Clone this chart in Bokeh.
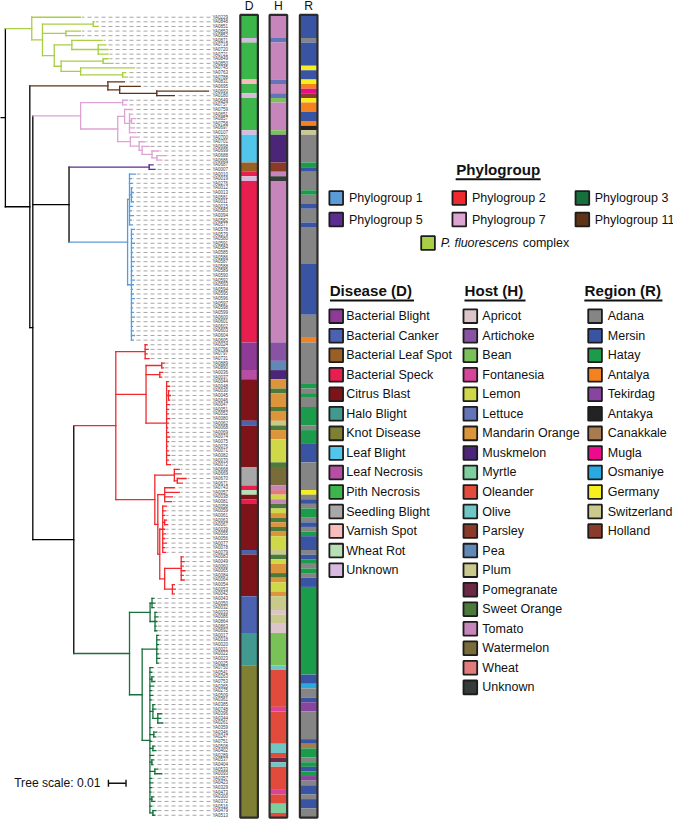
from bokeh.plotting import figure
from bokeh.models import Range1d
from bokeh.embed import file_html
from bokeh.resources import INLINE
from bokeh.core.properties import value

# ---------------- data ----------------
LEAF_IDS = [
    "YA0229", "YA0848", "YA0851", "YA0853", "YA0852", "YA0871", "YA0719", "YA0720", "YA0721", "YA0849",
    "YA0850", "YA0745", "YA0763", "YA0788", "YA0831", "YA0695", "YA0693", "YA0180", "YA0649", "YA0757",
    "YA0759", "YA0651", "YA0857", "YA0758", "YA0697", "YA0107", "YA0700", "YA0701", "YA0698", "YA0699",
    "YA0688", "YA0686", "YA0687", "YA0007", "YA0010", "YA0019", "YA0276", "YA0012", "YA0013", "YA0581",
    "YA0011", "YA0015", "YA0583", "YA0094", "YA0582", "YA0577", "YA0578", "YA0579", "YA0580", "YA0591",
    "YA0584", "YA0585", "YA0586", "YA0587", "YA0588", "YA0589", "YA0590", "YA0592", "YA0593", "YA0594",
    "YA0595", "YA0596", "YA0597", "YA0598", "YA0599", "YA0600", "YA0601", "YA0602", "YA0603", "YA0604",
    "YA0605", "YA0024", "YA0796", "YA0797", "YA0731", "YA0889", "YA0890", "YA0036", "YA0037", "YA0044",
    "YA0048", "YA0030", "YA0045", "YA0046", "YA0047", "YA0051", "YA0052", "YA0080", "YA0062", "YA0068",
    "YA0069", "YA0074", "YA0075", "YA0076", "YA0071", "YA0082", "YA0070", "YA0072", "YA0668", "YA0669",
    "YA0670", "YA0671", "YA0743", "YA0057", "YA0038", "YA0081", "YA0058", "YA0059", "YA0061", "YA0063",
    "YA0067", "YA0039", "YA0055", "YA0056", "YA0077", "YA0078", "YA0079", "YA0083", "YA0049", "YA0060",
    "YA0065", "YA0084", "YA0064", "YA0054", "YA0053", "YA0042", "YA0043", "YA0050", "YA0032", "YA0033",
    "YA0086", "YA0864", "YA0863", "YA0692", "YA0017", "YA0018", "YA0020", "YA0021", "YA0022", "YA0023",
    "YA0025", "YA0750", "YA0541", "YA0263", "YA0753", "YA0365", "YA0275", "YA0509", "YA0361", "YA0385",
    "YA0748", "YA0396", "YA0344", "YA0261", "YA0359", "YA0346", "YA0247", "YA0751", "YA0508", "YA0402",
    "YA0289", "YA0537", "YA0404", "YA0533", "YA0093", "YA0357", "YA0423", "YA0329", "YA0473", "YA0300",
    "YA0372", "YA0516", "YA0479", "YA0513",
]

# phylogroup of consecutive leaves (run lengths)
PG_RUNS = [("P. fluorescens complex", 14), ("Phylogroup 11", 4), ("Phylogroup 7", 14),
           ("Phylogroup 5", 2), ("Phylogroup 1", 37), ("Phylogroup 2", 55), ("Phylogroup 3", 48)]

# tree (leaf numbers index LEAF_IDS, branch lengths in substitutions/site)
FLUOR_NWK = ("(0:0.0278,((1:0.0006,2:0.0028):0.0289,(3:0.0083,4:0.0083):0.0133,"
             "((5:0.0172,(6:0.0044,7:0.0056,8:0.0056):0.0150):0.0100,((9:0.0028,10:0.0056):0.0239,"
             "(11:0.0306,(12:0.0017,13:0.0028):0.0239):0.0111):0.0039):0.0067):0.0061)")
BROWN_NWK = "(14:0.0094,(15:0.0117,(16:0.0294,17:0.0100):0.0211):0.0067)"
PINK_NWK = ("((18:0.0028,19:0.0022):0.0239,((20:0.0044,(21:0.0017,(22:0.0022,23:0.0017):0.0011,"
            "24:0.0028,25:0.0033):0.0028):0.0039,(26:0.0050,(27:0.0033,(28:0.0039,(29:0.0039,"
            "(30:0.0056,31:0.0028):0.0028):0.0056):0.0017):0.0050):0.0072):0.0211)")
PG5_NWK = "(32:0.0022,33:0.0033)"
PG1_NWK = ("((34:0.0033,35:0.0011,36:0.0017,(37:0.0006,38:0.0011,39:0.0006,40:0.0011):0.0011,"
           "41:0.0017,42:0.0011,43:0.0022,44:0.0011,45:0.0017):0.0011,(46:0.0017,47:0.0011,"
           "48:0.0006,49:0.0017,50:0.0011,51:0.0006,52:0.0011,53:0.0017,54:0.0011,55:0.0006,"
           "56:0.0011,57:0.0017,58:0.0011,59:0.0006,60:0.0011,61:0.0017,62:0.0011,63:0.0006,"
           "64:0.0011,65:0.0017,66:0.0011,67:0.0006,68:0.0011,69:0.0017,70:0.0011):0.0022)")
RED_NWK = ("((71:0.0011,72:0.0017,73:0.0011,74:0.0022):0.0167,((75:0.0017,76:0.0011):0.0089,"
           "(77:0.0017,78:0.0011):0.0078,(79:0.0011,80:0.0017,(81:0.0006,82:0.0011,83:0.0006):0.0011,"
           "84:0.0017,85:0.0011,86:0.0011,87:0.0017,88:0.0011,89:0.0006,90:0.0011,91:0.0017,"
           "92:0.0011,93:0.0006,94:0.0011,95:0.0017,96:0.0011,97:0.0022):0.0117):0.0172,"
           "((98:0.0028,99:0.0039,(100:0.0050,101:0.0028):0.0017):0.0111,((102:0.0056,103:0.0083,"
           "104:0.0044,105:0.0039):0.0039,((106:0.0022,107:0.0017,108:0.0011,(109:0.0011,"
           "110:0.0017):0.0011,111:0.0011,112:0.0017,113:0.0011,114:0.0022,115:0.0011,"
           "116:0.0017):0.0017,((117:0.0011,118:0.0017,119:0.0011,120:0.0022,121:0.0011,"
           "122:0.0017):0.0094,(123:0.0011,124:0.0017,125:0.0011):0.0044):0.0028):0.0011):0.0017):0.0222)")
KNOT_NWK = ("(141:0.0017,142:0.0011,(143:0.0011,144:0.0017):0.0011,145:0.0022,146:0.0011,147:0.0017,"
            "148:0.0011,(149:0.0011,150:0.0017,(151:0.0022,152:0.0017,153:0.0028):0.0028):0.0017,"
            "154:0.0011,(155:0.0017,156:0.0011):0.0022,157:0.0011,(158:0.0011,159:0.0017):0.0017,"
            "160:0.0022,(161:0.0011,162:0.0006):0.0011,(163:0.0017,164:0.0039):0.0028,165:0.0011,"
            "166:0.0017,167:0.0011,168:0.0006,(169:0.0011,170:0.0017):0.0011,171:0.0011,"
            "(172:0.0017,173:0.0011):0.0017)")
GREEN_NWK = ("(((126:0.0011,127:0.0017,128:0.0011):0.0011,(129:0.0011,130:0.0017,131:0.0011,"
             "132:0.0006,133:0.0011):0.0028):0.0117,((134:0.0011,135:0.0017,136:0.0011,137:0.0006,"
             "138:0.0011,139:0.0017,140:0.0011):0.0083," + KNOT_NWK + ":0.0044):0.0072)")
TREE_NWK = ("(" + FLUOR_NWK + ":0.0150,(" + BROWN_NWK + ":0.0444,(" + PINK_NWK + ":0.0272,("
            + PG5_NWK + ":0.0456," + PG1_NWK + ":0.0333):0.0206,(" + RED_NWK + ":0.0239,"
            + GREEN_NWK + ":0.0317):0.0233):0.0017):0.0139)")

# metadata strips (run lengths, top to bottom)
D_RUNS = [("Pith Necrosis", 5), ("Unknown", 1), ("Pith Necrosis", 8), ("Varnish Spot", 1),
          ("Pith Necrosis", 2), ("Unknown", 1), ("Pith Necrosis", 7), ("Unknown", 1),
          ("Leaf Blight", 6), ("Bacterial Leaf Spot", 2), ("Bacterial Speck", 1), ("Unknown", 1),
          ("Bacterial Speck", 35), ("Bacterial Blight", 6), ("Leaf Necrosis", 2), ("Citrus Blast", 9),
          ("Bacterial Canker", 1), ("Citrus Blast", 9), ("Seedling Blight", 4), ("Bacterial Speck", 1),
          ("Wheat Rot", 1), ("Citrus Blast", 1), ("Bacterial Speck", 1), ("Citrus Blast", 10),
          ("Bacterial Canker", 1), ("Citrus Blast", 9), ("Bacterial Canker", 8), ("Halo Blight", 7),
          ("Knot Disease", 33)]
H_RUNS = [("Tomato", 5), ("Lettuce", 1), ("Tomato", 8), ("Lettuce", 1), ("Tomato", 2), ("Lettuce", 1),
          ("Bean", 1), ("Tomato", 6), ("Bean", 1), ("Muskmelon", 6), ("Parsley", 2), ("Tomato", 1),
          ("Unknown", 1), ("Tomato", 35), ("Artichoke", 4), ("Pea", 2), ("Muskmelon", 2),
          ("Mandarin Orange", 2), ("Sweet Orange", 1), ("Mandarin Orange", 3), ("Sweet Orange", 1),
          ("Mandarin Orange", 2), ("Plum", 1), ("Sweet Orange", 1), ("Mandarin Orange", 2), ("Lemon", 5),
          ("Sweet Orange", 1), ("Watermelon", 4), ("Tomato", 1), ("Wheat", 1), ("Lemon", 1), ("Tomato", 1),
          ("Sweet Orange", 1), ("Lemon", 1), ("Mandarin Orange", 1), ("Sweet Orange", 1),
          ("Mandarin Orange", 1), ("Sweet Orange", 1), ("Mandarin Orange", 1), ("Lemon", 3), ("Plum", 1),
          ("Sweet Orange", 1), ("Lemon", 1), ("Mandarin Orange", 2), ("Sweet Orange", 1),
          ("Mandarin Orange", 1), ("Lemon", 2), ("Mandarin Orange", 1), ("Plum", 3), ("Apricot", 1),
          ("Plum", 2), ("Apricot", 2), ("Bean", 7), ("Olive", 1), ("Oleander", 8), ("Fontanesia", 1),
          ("Oleander", 7), ("Olive", 2), ("Oleander", 1), ("Pomegranate", 1), ("Olive", 1), ("Oleander", 5),
          ("Fontanesia", 1), ("Oleander", 2), ("Myrtle", 2), ("Oleander", 1)]
R_RUNS = [("Mersin", 5), ("Adana", 1), ("Mersin", 5), ("Germany", 1), ("Mersin", 2), ("Germany", 1),
          ("Antalya", 1), ("Mugla", 1), ("Holland", 1), ("Germany", 1), ("Antalya", 2), ("Mersin", 2),
          ("Antalya", 1), ("Antakya", 1), ("Switzerland", 1), ("Adana", 6), ("Hatay", 1), ("Mersin", 1),
          ("Adana", 4), ("Hatay", 1), ("Adana", 2), ("Mersin", 1), ("Adana", 3), ("Mersin", 1), ("Adana", 8),
          ("Mersin", 11), ("Adana", 5), ("Antalya", 1), ("Adana", 9), ("Hatay", 1), ("Adana", 1),
          ("Hatay", 1), ("Adana", 2), ("Hatay", 4), ("Adana", 1), ("Hatay", 3), ("Mersin", 4), ("Adana", 6),
          ("Germany", 1), ("Adana", 1), ("Mersin", 1), ("Adana", 1), ("Hatay", 2), ("Adana", 1),
          ("Mersin", 1), ("Adana", 1), ("Hatay", 1), ("Mersin", 3), ("Adana", 1), ("Mersin", 1),
          ("Hatay", 1), ("Adana", 1), ("Hatay", 1), ("Adana", 1), ("Mersin", 2), ("Hatay", 19),
          ("Mersin", 2), ("Osmaniye", 1), ("Adana", 2), ("Mersin", 1), ("Tekirdag", 2), ("Adana", 6),
          ("Mersin", 1), ("Canakkale", 1), ("Hatay", 2), ("Adana", 1), ("Hatay", 1), ("Mersin", 1),
          ("Hatay", 1), ("Tekirdag", 1), ("Adana", 1), ("Mersin", 2), ("Adana", 1), ("Mersin", 2),
          ("Adana", 2)]

PG_NAMES = ["Phylogroup 1", "Phylogroup 2", "Phylogroup 3", "Phylogroup 5", "Phylogroup 7",
            "Phylogroup 11", "P. fluorescens complex"]
PG_COLORS = ["#5b9bd8", "#ee2a2e", "#16703c", "#5c2d91", "#dda3d2", "#5e3316", "#a8cf45"]

DISEASE_NAMES = ["Bacterial Blight", "Bacterial Canker", "Bacterial Leaf Spot", "Bacterial Speck",
                 "Citrus Blast", "Halo Blight", "Knot Disease", "Leaf Blight", "Leaf Necrosis",
                 "Pith Necrosis", "Seedling Blight", "Varnish Spot", "Wheat Rot", "Unknown"]
DISEASE_COLORS = ["#8d3b97", "#4a62b0", "#9a5f25", "#e81e4e", "#7d1419", "#42998f", "#7f8033",
                  "#52c6ea", "#b64ea3", "#3cb54b", "#a8a8a8", "#f9bcbc", "#b8e0b7", "#d7badd"]
HOST_NAMES = ["Apricot", "Artichoke", "Bean", "Fontanesia", "Lemon", "Lettuce", "Mandarin Orange",
              "Muskmelon", "Myrtle", "Oleander", "Olive", "Parsley", "Pea", "Plum", "Pomegranate",
              "Sweet Orange", "Tomato", "Watermelon", "Wheat", "Unknown"]
HOST_COLORS = ["#dbc5ca", "#8953a4", "#79c258", "#d8449a", "#cfd849", "#6474b9", "#dc953b",
               "#4b2577", "#7ecf9e", "#e24b3c", "#70c6c4", "#8a3a27", "#6189b8", "#cac98c",
               "#6c2946", "#4b7b3b", "#c686bb", "#7a6b3b", "#e27c7c", "#343b39"]
REGION_NAMES = ["Adana", "Mersin", "Hatay", "Antalya", "Tekirdag", "Antakya", "Canakkale", "Mugla",
                "Osmaniye", "Germany", "Switzerland", "Holland"]
REGION_COLORS = ["#858585", "#3a54a4", "#1a9c4b", "#f5821f", "#8745a0", "#232323", "#a97b50",
                 "#ec0b8c", "#28a9e0", "#f7ee1d", "#cbca8e", "#8b3b2b"]

TREE_SCALE = 0.01

# ---------------- layout constants (reference pixels) ----------------
W_REF, H_REF = 689, 836
FIG_W, FIG_H = 673, 820
S = FIG_W / W_REF
PX_PER_UNIT = 1800.0
ROOT_X = 5.0
COL_TOP, COL_BOT = 14.7, 833.0
N = len(LEAF_IDS)
ROW_H = (COL_BOT - COL_TOP) / N
LABEL_X = 217.0
DASH_END = 215.0
FONT = value("Liberation Sans")


def fs(px):
    return "%.2fpx" % (px * S)


def expand(runs):
    out = []
    for name, n in runs:
        out += [name] * n
    return out


leaf_pg = expand(PG_RUNS)
leaf_y = [COL_TOP + (i + 0.5) * ROW_H for i in range(N)]
pg_color = dict(zip(PG_NAMES, PG_COLORS))


def parse_newick(s):
    s = "".join(s.split())
    pos = 0

    def node():
        nonlocal pos
        n = {"children": [], "leaf": None, "len": 0.0}
        if s[pos] == "(":
            pos += 1
            n["children"].append(node())
            while s[pos] == ",":
                pos += 1
                n["children"].append(node())
            pos += 1  # ')'
        else:
            st = pos
            while s[pos] not in ":,)":
                pos += 1
            n["leaf"] = int(s[st:pos])
        if pos < len(s) and s[pos] == ":":
            pos += 1
            st = pos
            while pos < len(s) and s[pos] not in ",)":
                pos += 1
            n["len"] = float(s[st:pos])
        return n

    return node()


tree = parse_newick(TREE_NWK)


def place(n, xp):
    n["x"] = xp + n["len"] * PX_PER_UNIT
    if n["leaf"] is not None:
        n["y"] = leaf_y[n["leaf"]]
        n["groups"] = {leaf_pg[n["leaf"]]}
    else:
        for c in n["children"]:
            place(c, n["x"])
        n["y"] = (n["children"][0]["y"] + n["children"][-1]["y"]) / 2
        n["groups"] = set().union(*[c["groups"] for c in n["children"]])
    n["color"] = pg_color[next(iter(n["groups"]))] if len(n["groups"]) == 1 else "#000000"


place(tree, ROOT_X)

seg = {"x0": [], "y0": [], "x1": [], "y1": [], "c": []}
tips = {}


def collect(n, xp):
    if xp is not None:
        seg["x0"].append(xp); seg["y0"].append(n["y"]); seg["x1"].append(n["x"]); seg["y1"].append(n["y"])
        seg["c"].append(n["color"])
    if n["leaf"] is not None:
        tips[n["leaf"]] = n["x"]
    else:
        seg["x0"].append(n["x"]); seg["y0"].append(n["children"][0]["y"])
        seg["x1"].append(n["x"]); seg["y1"].append(n["children"][-1]["y"])
        seg["c"].append(n["color"])
        for c in n["children"]:
            collect(c, n["x"])


collect(tree, None)
# root stub
seg["x0"].append(0.0); seg["y0"].append(tree["y"]); seg["x1"].append(ROOT_X); seg["y1"].append(tree["y"])
seg["c"].append("#000000")

# ---------------- figure ----------------
p = figure(width=FIG_W, height=FIG_H, x_range=Range1d(0, W_REF), y_range=Range1d(H_REF, 0),
           output_backend="svg", toolbar_location=None, min_border=0)
p.axis.visible = False
p.grid.visible = False
p.outline_line_color = None

# leader dashes (drawn from the label side so the dash pattern lines up)
p.segment(x0=[DASH_END] * N, y0=leaf_y, x1=[tips[i] + 1.5 for i in range(N)], y1=leaf_y,
          line_color="#a6a6a6", line_width=1, line_dash="4 3")

p.segment(x0=seg["x0"], y0=seg["y0"], x1=seg["x1"], y1=seg["y1"], line_color=seg["c"],
          line_width=1.3, line_cap="square")

p.text(x=[LABEL_X] * N, y=leaf_y, text=LEAF_IDS, text_font=FONT, text_font_size=fs(4.6),
       text_baseline="middle", text_color="#3a3a3a")

# metadata columns: one block per run of equal values
COLS = [("D", D_RUNS, dict(zip(DISEASE_NAMES, DISEASE_COLORS)), 245.5, 263.5),
        ("H", H_RUNS, dict(zip(HOST_NAMES, HOST_COLORS)), 275.5, 293.5),
        ("R", R_RUNS, dict(zip(REGION_NAMES, REGION_COLORS)), 306.5, 324.5)]
for head, runs, cmap, l, r in COLS:
    tops, bots, cols = [], [], []
    start = 0
    for name, n in runs:
        tops.append(COL_TOP + start * ROW_H)
        bots.append(COL_TOP + (start + n) * ROW_H)
        cols.append(cmap[name])
        start += n
    p.quad(left=[l] * len(tops), right=[r] * len(tops), top=tops, bottom=bots, fill_color=cols,
           line_color=None)
    p.quad(left=[l], right=[r], top=[COL_TOP], bottom=[COL_BOT], fill_color=None,
           line_color="#2b2b2b", line_width=2.2)
    p.text(x=[(l + r) / 2], y=[5.5], text=[head], text_font=FONT, text_font_size=fs(12.5),
           text_align="center", text_baseline="middle", text_color="#111111")

# tree scale
SB_Y = 798.0
SB_X0 = 110.5
p.text(x=[14.0], y=[SB_Y], text=["Tree scale: %g" % TREE_SCALE], text_font=FONT,
       text_font_size=fs(12.4), text_baseline="middle", text_color="#111111")
sb_x1 = SB_X0 + TREE_SCALE * PX_PER_UNIT
p.segment(x0=[SB_X0, SB_X0, sb_x1], y0=[SB_Y, SB_Y - 3.5, SB_Y - 3.5],
          x1=[sb_x1, SB_X0, sb_x1], y1=[SB_Y, SB_Y + 3.5, SB_Y + 3.5],
          line_color="#111111", line_width=1.4)

# ---------------- legends ----------------
SW = 14.0
ITEM_FS = fs(12.8)
TITLE_FS = fs(15.5)


def swatches(xs, ys, colors):
    p.rect(x=[x + SW / 2 for x in xs], y=ys, width=SW, height=SW, fill_color=colors,
           line_color="#1c1c1c", line_width=1.8)


def title(x, y, t, x_ul0, x_ul1, align="left"):
    p.text(x=[x], y=[y], text=[t], text_font=FONT, text_font_size=TITLE_FS, text_font_style="bold",
           text_align=align, text_baseline="middle", text_color="#111111")
    p.segment(x0=[x_ul0], y0=[y + 9.8], x1=[x_ul1], y1=[y + 9.8], line_color="#111111", line_width=2)


# phylogroup legend
title(509.5, 172.5, "Phylogroup", 466.0, 553.0, align="center")
pg_sw_x = [336.7, 462.7, 588.7, 336.7, 462.7, 588.7]
pg_txt_x = [356.7, 482.7, 608.3, 356.7, 482.7, 608.3]
pg_y = [201.3, 201.3, 201.3, 223.3, 223.3, 223.3]
swatches(pg_sw_x, pg_y, PG_COLORS[:6])
p.text(x=pg_txt_x, y=pg_y, text=PG_NAMES[:6], text_font=FONT, text_font_size=ITEM_FS,
       text_baseline="middle", text_color="#111111")
swatches([430.7], [247.3], PG_COLORS[6:])
fl_italic, fl_rest = PG_NAMES[6].rsplit(" ", 1)
p.text(x=[450.7], y=[247.3], text=[fl_italic], text_font=FONT, text_font_size=ITEM_FS,
       text_font_style="italic", text_baseline="middle", text_color="#111111")
p.text(x=[534.6], y=[247.3], text=[fl_rest], text_font=FONT, text_font_size=ITEM_FS,
       text_baseline="middle", text_color="#111111")

# categorical legends
ITEM_Y0, ITEM_DY = 321.8, 19.92
for (ttl, names, colors, tx, ul0, ul1, swx, txx) in [
        ("Disease (D)", DISEASE_NAMES, DISEASE_COLORS, 337.0, 337.3, 423.3, 336.7, 354.0),
        ("Host (H)", HOST_NAMES, HOST_COLORS, 475.0, 475.0, 537.5, 474.0, 493.3),
        ("Region (R)", REGION_NAMES, REGION_COLORS, 598.0, 597.7, 677.7, 601.7, 621.7)]:
    title(tx, 296.0, ttl, ul0, ul1)
    ys = [ITEM_Y0 + i * ITEM_DY for i in range(len(names))]
    swatches([swx] * len(names), ys, colors)
    p.text(x=[txx] * len(names), y=ys, text=names, text_font=FONT, text_font_size=ITEM_FS,
           text_baseline="middle", text_color="#111111")

open("out.html", "w").write(file_html(p, INLINE))
